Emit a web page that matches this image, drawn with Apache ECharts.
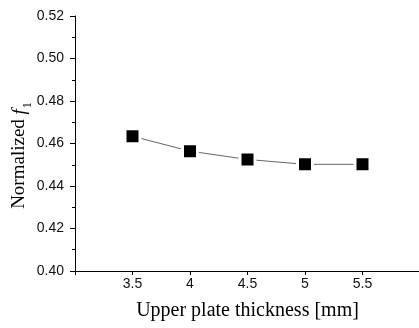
<!DOCTYPE html>
<html>
<head>
<meta charset="utf-8">
<script src="https://cdn.jsdelivr.net/npm/echarts@6/dist/echarts.min.js"></script>
<style>html,body{margin:0;padding:0;background:#fff}#c{width:419px;height:328px}</style>
</head>
<body>
<div id="c"></div>
<script>
var thickness = [3.5, 4, 4.5, 5, 5.5];
var normF1 = [0.4634, 0.4564, 0.4525, 0.4502, 0.4502];
var xTickLabels = ['3.5', '4', '4.5', '5', '5.5'];
var yTickLabels = ['0.40', '0.42', '0.44', '0.46', '0.48', '0.50', '0.52'];

var chart = echarts.init(document.getElementById('c'));
chart.setOption({
  animation: false,
  backgroundColor: '#fff',
  grid: { left: 75, right: -1, top: 16, bottom: 57, containLabel: false, outerBoundsMode: 'none' },
  xAxis: {
    type: 'value', min: 3, max: 6, interval: 0.5,
    name: 'Upper plate thickness [mm]',
    nameLocation: 'middle', nameGap: 30, nameMoveOverlap: false,
    nameTextStyle: { fontFamily: 'Liberation Serif', fontSize: 20, color: '#000' },
    axisLine: { show: true, lineStyle: { color: '#000', width: 1 } },
    axisTick: { show: true, length: 4, lineStyle: { color: '#000' } },
    axisLabel: {
      margin: 6, fontFamily: 'Liberation Sans', fontSize: 14, color: '#111',
      formatter: function (v) {
        var s = String(v);
        return xTickLabels.indexOf(s) >= 0 ? s : '';
      }
    },
    splitLine: { show: false }
  },
  yAxis: {
    type: 'value', min: 0.40, max: 0.52, interval: 0.02,
    name: '{a|Normalized }{b|f}{c|1}',
    nameLocation: 'middle', nameGap: 43, nameRotate: 90, nameMoveOverlap: false,
    nameTextStyle: {
      fontFamily: 'Liberation Serif', fontSize: 19, color: '#000',
      padding: [0, 24, 0, 0],
      rich: {
        a: { fontFamily: 'Liberation Serif', fontSize: 19, color: '#000', verticalAlign: 'top', lineHeight: 22 },
        b: { fontFamily: 'Liberation Serif', fontSize: 19, fontStyle: 'italic', color: '#000', verticalAlign: 'top', lineHeight: 22 },
        c: { fontFamily: 'Liberation Serif', fontSize: 12, color: '#000', verticalAlign: 'top', lineHeight: 22, padding: [12, 0, 0, 1] }
      }
    },
    axisLine: { show: true, lineStyle: { color: '#000', width: 1 } },
    axisTick: { show: true, length: 5, lineStyle: { color: '#000' } },
    minorTick: { show: true, splitNumber: 2, length: 3, lineStyle: { color: '#000' } },
    axisLabel: {
      margin: 11, fontFamily: 'Liberation Sans', fontSize: 14, color: '#111',
      formatter: function (v) {
        var s = v.toFixed(2);
        return yTickLabels.indexOf(s) >= 0 ? s : '';
      }
    },
    splitLine: { show: false }
  },
  series: [{
    type: 'line',
    data: thickness.map(function (t, i) { return [t, normF1[i]]; }),
    symbol: 'rect', symbolSize: 15,
    lineStyle: { color: '#666', width: 1 },
    itemStyle: { color: '#000', borderColor: '#fff', borderWidth: 3 }
  }]
});
</script>
</body>
</html>
